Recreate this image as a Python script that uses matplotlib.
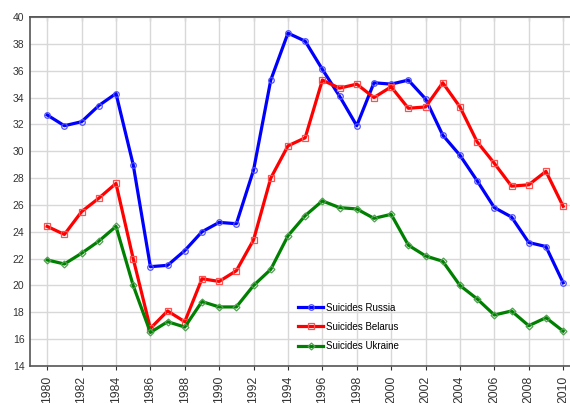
import numpy as np
import matplotlib
matplotlib.use('Agg')
import matplotlib.pyplot as plt

# data
years = list(range(1980, 2011))
russia = [32.7, 31.9, 32.2, 33.4, 34.3, 29.0, 21.4, 21.5, 22.6, 24.0, 24.7, 24.6,
          28.6, 35.3, 38.8, 38.2, 36.1, 34.1, 31.9, 35.1, 35.0, 35.3, 33.9, 31.2,
          29.7, 27.8, 25.8, 25.1, 23.2, 22.9, 20.2]
belarus = [24.4, 23.8, 25.5, 26.5, 27.6, 22.0, 16.8, 18.1, 17.3, 20.5, 20.3, 21.1,
           23.4, 28.0, 30.4, 31.0, 35.3, 34.7, 35.0, 34.0, 34.8, 33.2, 33.3, 35.1,
           33.3, 30.7, 29.1, 27.4, 27.5, 28.5, 25.9]
ukraine = [21.9, 21.6, 22.4, 23.3, 24.4, 20.0, 16.5, 17.3, 16.9, 18.8, 18.4, 18.4,
           20.0, 21.2, 23.7, 25.2, 26.3, 25.8, 25.7, 25.0, 25.3, 23.0, 22.2, 21.8,
           20.0, 19.0, 17.8, 18.1, 17.0, 17.6, 16.6]
series_names = ['Suicides Russia', 'Suicides Belarus', 'Suicides Ukraine']

plt.rcParams['font.family'] = ['Liberation Sans', 'DejaVu Sans']

fig = plt.figure(figsize=(5.7, 4.03), dpi=100)
ax = fig.add_axes([30/570, 37/403, 540/570, 349/403])

ax.plot(years, russia, color='#0000ff', lw=2.3, marker='o', ms=4,
        mfc='none', mec='#5050ff', mew=0.9, label=series_names[0])
ax.plot(years, belarus, color='#ff0000', lw=2.3, marker='s', ms=4,
        mfc='none', mec='#ff5050', mew=0.9, label=series_names[1])
ax.plot(years, ukraine, color='#008000', lw=2.3, marker='D', ms=3.5,
        mfc='none', mec='#50a050', mew=0.9, label=series_names[2])

ax.set_xlim(1979.0, 2010.4)
ax.set_ylim(14, 40)
ax.set_xticks(range(1980, 2011, 2))
ax.set_yticks(range(14, 41, 2))
ax.tick_params(axis='x', rotation=90, labelsize=8.8, colors='#333333', direction='out',
               length=3, pad=4)
ax.tick_params(axis='y', labelsize=7.5, colors='#333333', length=0, pad=4)
ax.grid(True, color='#d8d8d8', lw=1)
ax.set_axisbelow(True)
for s in ['left', 'top', 'bottom']:
    ax.spines[s].set_color('#555555')
    ax.spines[s].set_linewidth(1.2)
ax.spines['right'].set_visible(False)

# small inward ticks on the top edge
top = ax.secondary_xaxis('top')
top.set_xticks(range(1980, 2011, 2))
top.tick_params(direction='in', length=3, labeltop=False, color='#333333')
top.spines['top'].set_color('#555555')
top.spines['top'].set_linewidth(1.2)

ax.legend(loc='upper left', bbox_to_anchor=(0.49, 0.193), frameon=False,
          fontsize=7, handlelength=2.5, handletextpad=0.3, labelspacing=0.95,
          borderaxespad=0)

fig.savefig('out.png', dpi=100)
